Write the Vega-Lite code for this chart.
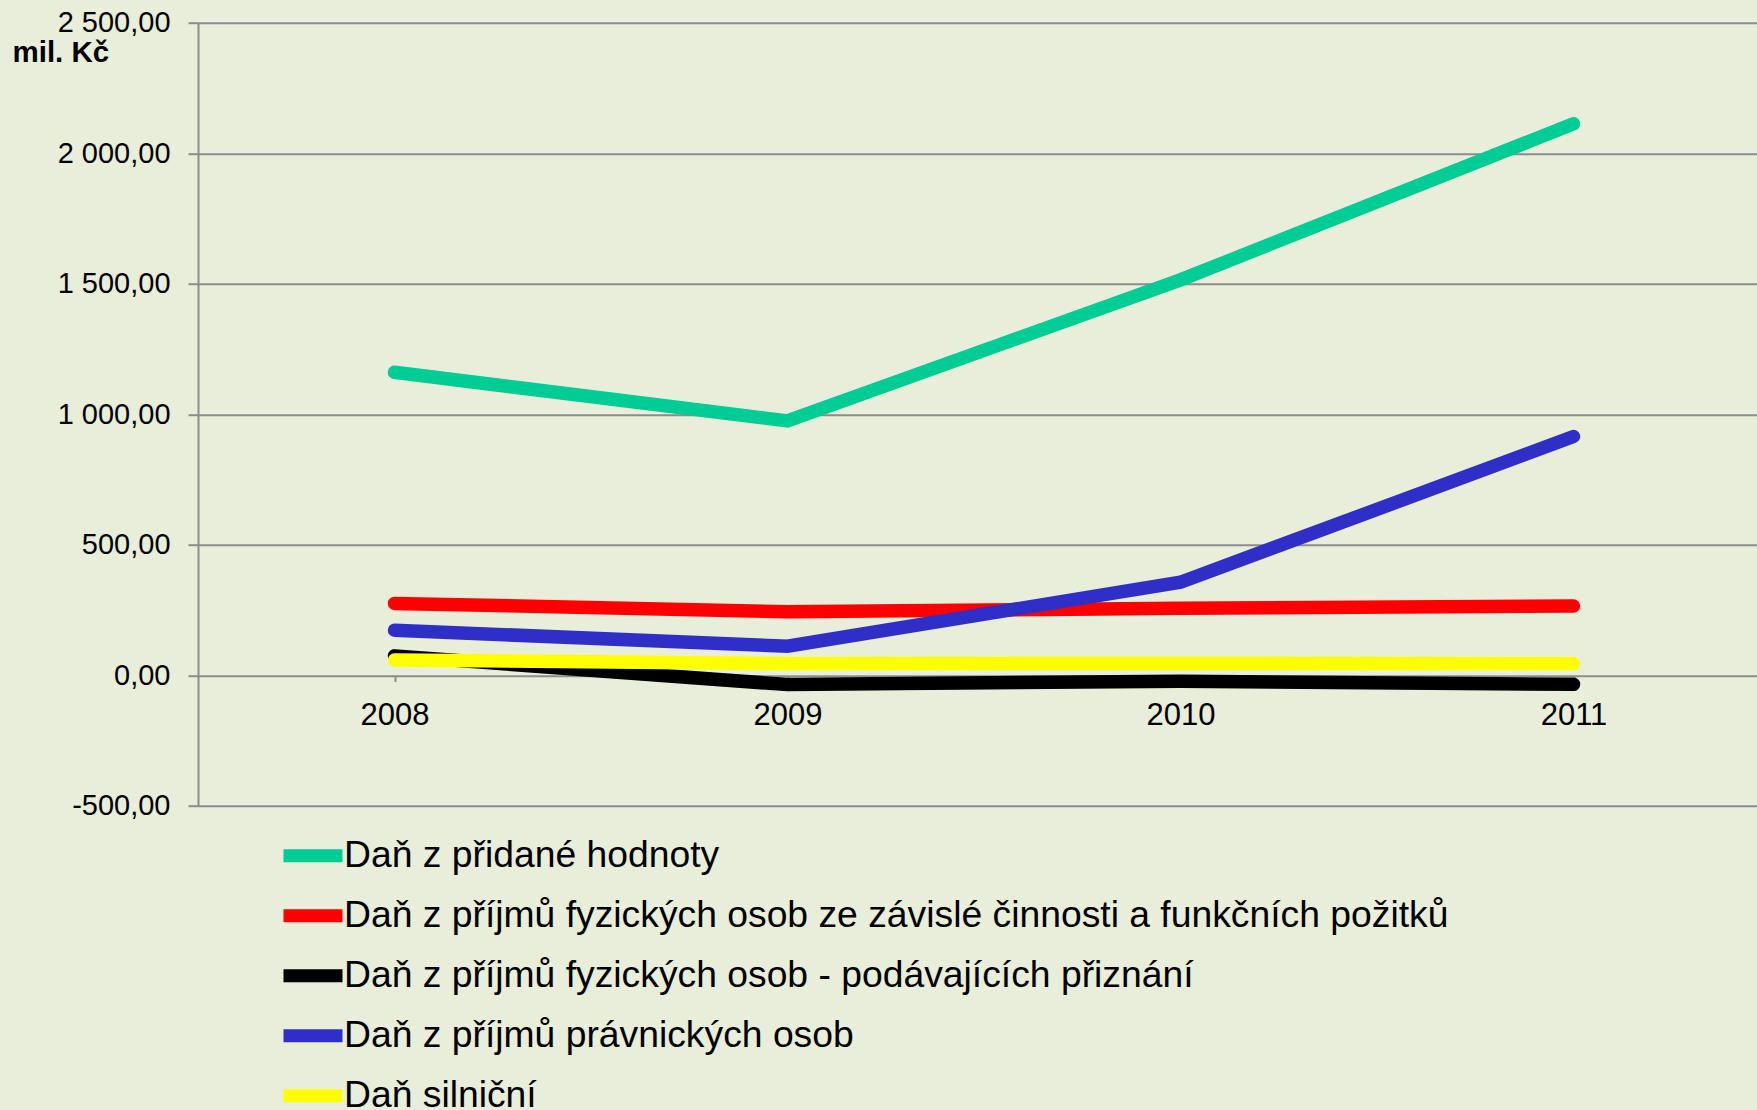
{
  "$schema": "https://vega.github.io/schema/vega-lite/v6.json",
  "autosize": {"type": "none"},
  "padding": {"left": 198, "top": 22.7, "right": 0, "bottom": 304.3},
  "width": 1559,
  "height": 783.3,
  "background": "#E8EED9",
  "config": {"view": {"stroke": null}, "font": "Liberation Sans"},
  "data": {
    "values": [
      {"dan": "Daň z přidané hodnoty", "rok": "2008", "hodnota": 1161},
      {"dan": "Daň z přidané hodnoty", "rok": "2009", "hodnota": 975},
      {"dan": "Daň z přidané hodnoty", "rok": "2010", "hodnota": 1515},
      {"dan": "Daň z přidané hodnoty", "rok": "2011", "hodnota": 2113},
      {"dan": "Daň z příjmů fyzických osob ze závislé činnosti a funkčních požitků", "rok": "2008", "hodnota": 276},
      {"dan": "Daň z příjmů fyzických osob ze závislé činnosti a funkčních požitků", "rok": "2009", "hodnota": 244},
      {"dan": "Daň z příjmů fyzických osob ze závislé činnosti a funkčních požitků", "rok": "2010", "hodnota": 257},
      {"dan": "Daň z příjmů fyzických osob ze závislé činnosti a funkčních požitků", "rok": "2011", "hodnota": 266},
      {"dan": "Daň z příjmů fyzických osob - podávajících přiznání", "rok": "2008", "hodnota": 75},
      {"dan": "Daň z příjmů fyzických osob - podávajících přiznání", "rok": "2009", "hodnota": -35},
      {"dan": "Daň z příjmů fyzických osob - podávajících přiznání", "rok": "2010", "hodnota": -22},
      {"dan": "Daň z příjmů fyzických osob - podávajících přiznání", "rok": "2011", "hodnota": -34},
      {"dan": "Daň z příjmů právnických osob", "rok": "2008", "hodnota": 173},
      {"dan": "Daň z příjmů právnických osob", "rok": "2009", "hodnota": 112},
      {"dan": "Daň z příjmů právnických osob", "rok": "2010", "hodnota": 357},
      {"dan": "Daň z příjmů právnických osob", "rok": "2011", "hodnota": 915},
      {"dan": "Daň silniční", "rok": "2008", "hodnota": 59},
      {"dan": "Daň silniční", "rok": "2009", "hodnota": 45},
      {"dan": "Daň silniční", "rok": "2010", "hodnota": 46},
      {"dan": "Daň silniční", "rok": "2011", "hodnota": 45}
    ]
  },
  "mark": {"type": "line", "strokeWidth": 13.5, "strokeCap": "round"},
  "encoding": {
    "x": {
      "field": "rok",
      "type": "ordinal",
      "scale": {"type": "point", "range": [0, 1572], "padding": 0.5},
      "axis": {
        "title": null,
        "offset": -130.55,
        "domain": false,
        "grid": false,
        "ticks": true,
        "tickSize": 6,
        "tickWidth": 2,
        "tickColor": "#8C8C8C",
        "labelAngle": 0,
        "labelFontSize": 31,
        "labelColor": "#000000",
        "labelPadding": 19
      }
    },
    "y": {
      "field": "hodnota",
      "type": "quantitative",
      "scale": {"domain": [-500, 2500], "nice": false, "zero": false},
      "axis": {
        "values": [-500, 0, 500, 1000, 1500, 2000, 2500],
        "labelExpr": "replace(replace(replace(format(datum.value, ',.2f'), ',', ' '), '.', ','), '−', '-')",
        "labelFontSize": 29,
        "labelColor": "#000000",
        "labelPadding": 18,
        "tickSize": 10,
        "tickWidth": 2,
        "tickColor": "#8C8C8C",
        "domainColor": "#8C8C8C",
        "domainWidth": 2,
        "grid": true,
        "gridColor": "#8C8C8C",
        "gridWidth": 2,
        "title": "mil. Kč",
        "titleAngle": 0,
        "titleAlign": "left",
        "titleBaseline": "alphabetic",
        "titleX": -186,
        "titleY": 39.3,
        "titleFontSize": 29.5,
        "titleFontWeight": "bold",
        "titleColor": "#000000"
      }
    },
    "color": {
      "field": "dan",
      "type": "nominal",
      "scale": {
        "domain": [
          "Daň z přidané hodnoty",
          "Daň z příjmů fyzických osob ze závislé činnosti a funkčních požitků",
          "Daň z příjmů fyzických osob - podávajících přiznání",
          "Daň z příjmů právnických osob",
          "Daň silniční"
        ],
        "range": ["#00CC96", "#FF0000", "#000000", "#2F2FC8", "#FFFF00"]
      },
      "legend": {
        "orient": "none",
        "legendX": 81,
        "legendY": 799,
        "title": null,
        "direction": "vertical",
        "padding": 0,
        "symbolType": "M-1.0727,0H1.0727",
        "symbolStrokeWidth": 13,
        "symbolSize": 3025,
        "labelFontSize": 37.3,
        "labelColor": "#000000",
        "labelLimit": 2000,
        "labelOffset": -3,
        "rowPadding": 0
      }
    }
  }
}
